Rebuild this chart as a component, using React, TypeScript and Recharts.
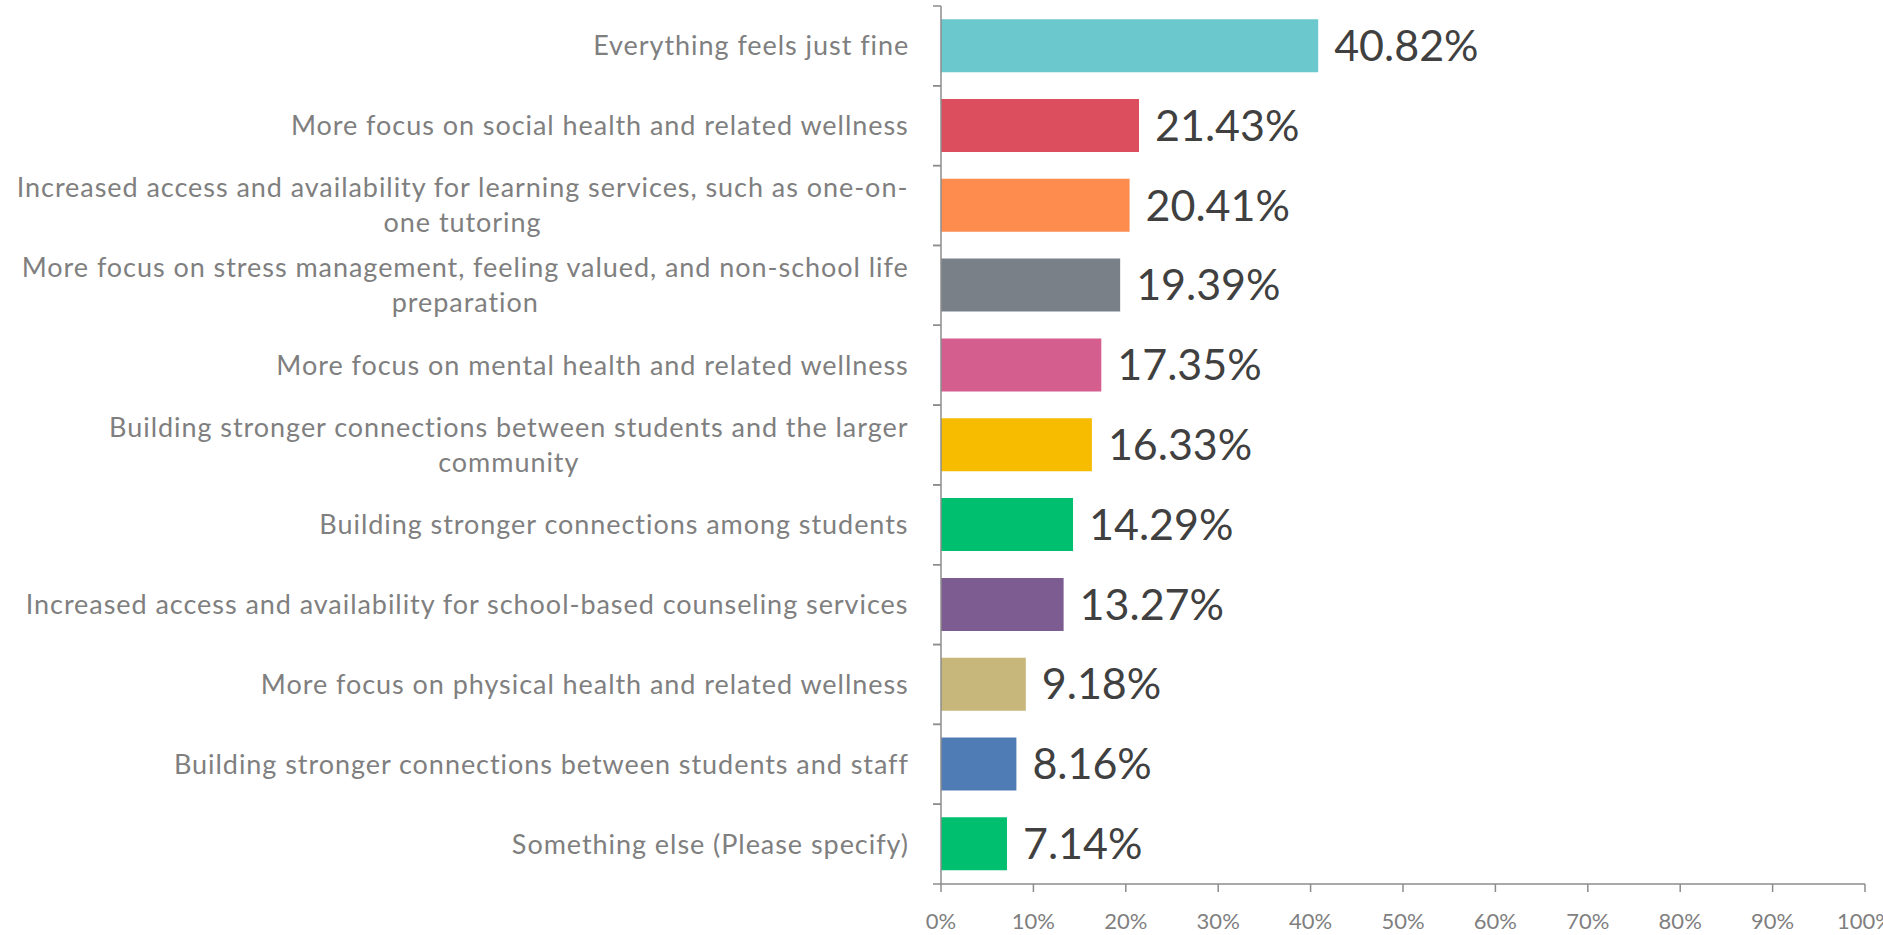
import { BarChart, Bar, XAxis, YAxis, Cell, LabelList } from "recharts";

const categories = [
  "Everything feels just fine",
  "More focus on social health and related wellness",
  "Increased access and availability for learning services, such as one-on-\none tutoring",
  "More focus on stress management, feeling valued, and non-school life\npreparation",
  "More focus on mental health and related wellness",
  "Building stronger connections between students and the larger\ncommunity",
  "Building stronger connections among students",
  "Increased access and availability for school-based counseling services",
  "More focus on physical health and related wellness",
  "Building stronger connections between students and staff",
  "Something else (Please specify)",
];
const values = [40.82, 21.43, 20.41, 19.39, 17.35, 16.33, 14.29, 13.27, 9.18, 8.16, 7.14];
const colors = [
  "#6BC8CD", "#DC4D5E", "#FF8C4F", "#7A8087", "#D45F8E", "#F7BB00",
  "#00BF6F", "#7D5C91", "#C8B77A", "#507CB6", "#00BF6F",
];
const xTicks = [0, 10, 20, 30, 40, 50, 60, 70, 80, 90, 100];

const FONT = "Lato, 'Open Sans', sans-serif";
const AXIS = "#8C8C8C";
const CAT_SIZE = 27;
const CAT_SPACING = 0.95;
const TICK_SIZE = 8;
const TICK_MARGIN = 24;

let ctx: CanvasRenderingContext2D | null = null;
function textWidth(s: string) {
  if (!ctx) ctx = document.createElement("canvas").getContext("2d");
  if (!ctx) return s.length * CAT_SIZE * 0.5;
  ctx.font = `${CAT_SIZE}px Lato`;
  return ctx.measureText(s).width + s.length * CAT_SPACING;
}

function CategoryTick(props: any) {
  const { x, y, payload } = props;
  const half = payload?.offset ?? 0;
  const lines = String(payload.value).split("\n");
  const block = Math.max(...lines.map(textWidth));
  const cx = x - block / 2;
  const lineH = 35;
  const startY = y - ((lines.length - 1) * lineH) / 2;
  const axisX = x + TICK_MARGIN + TICK_SIZE;
  return (
    <g>
      <line x1={axisX} x2={axisX - TICK_SIZE} y1={y - half} y2={y - half} stroke={AXIS} strokeWidth={1.5} />
      <line x1={axisX} x2={axisX - TICK_SIZE} y1={y + half} y2={y + half} stroke={AXIS} strokeWidth={1.5} />
      <text
        fill="#7F7F7F"
        fontSize={CAT_SIZE}
        fontFamily={FONT}
        letterSpacing={CAT_SPACING}
        textAnchor="middle"
      >
        {lines.map((l, i) => (
          <tspan key={i} x={cx} y={startY + i * lineH} dy="0.35em">
            {l}
          </tspan>
        ))}
      </text>
    </g>
  );
}

export default function App() {
  const data = categories.map((name, i) => ({ name, value: values[i] }));
  return (
    <div style={{ position: "absolute", left: 0, top: 0, background: "#fff" }}>
      <BarChart
        width={1883}
        height={935}
        data={data}
        layout="vertical"
        margin={{ top: 6, right: 18, left: 0, bottom: 0 }}
        barCategoryGap="16.5%"
      >
        <XAxis
          type="number"
          domain={[0, 100]}
          ticks={xTicks}
          tickFormatter={(v: number) => `${v}%`}
          height={51}
          axisLine={{ stroke: AXIS, strokeWidth: 1.5 }}
          tickLine={{ stroke: AXIS, strokeWidth: 1.5 }}
          tickSize={TICK_SIZE}
          tickMargin={21}
          tick={{ fill: "#7F7F7F", fontSize: 22, fontFamily: FONT }}
          interval={0}
        />
        <YAxis
          type="category"
          dataKey="name"
          width={941}
          axisLine={{ stroke: AXIS, strokeWidth: 1.5 }}
          tickLine={false}
          tickSize={TICK_SIZE}
          tickMargin={TICK_MARGIN}
          tick={<CategoryTick />}
          interval={0}
        />
        <Bar dataKey="value" isAnimationActive={false}>
          {data.map((_, i) => (
            <Cell key={i} fill={colors[i]} />
          ))}
          <LabelList
            dataKey="value"
            position="right"
            offset={16}
            formatter={(v: any) => `${Number(v).toFixed(2)}%`}
            fill="#404040"
            fontSize={43}
            fontFamily={FONT}
          />
        </Bar>
      </BarChart>
    </div>
  );
}
